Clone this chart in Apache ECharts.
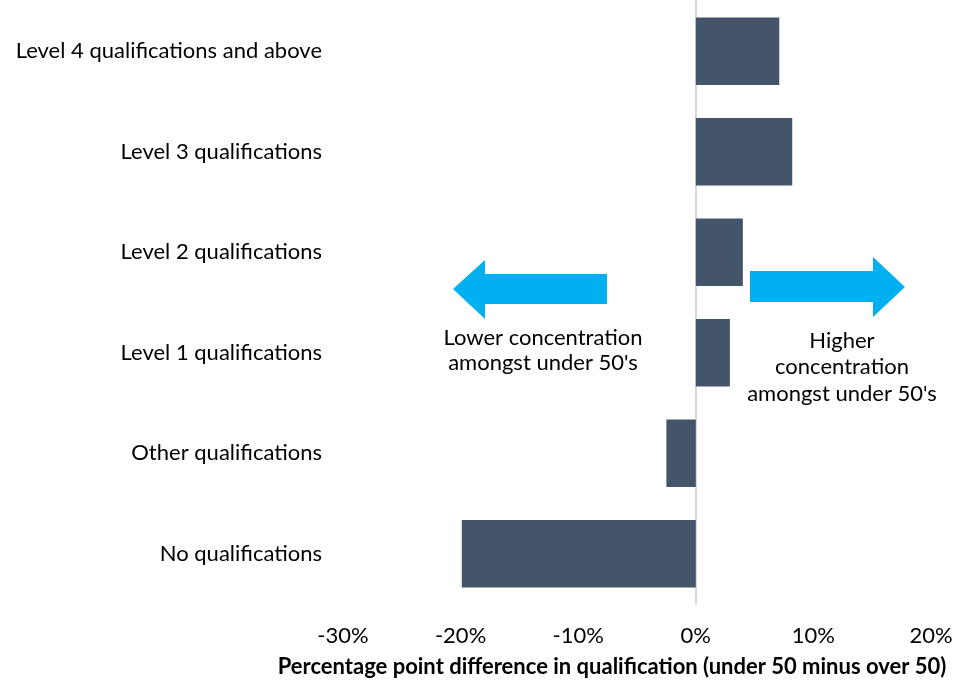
<!DOCTYPE html>
<html lang="en">
<head>
    <meta charset="UTF-8">
    <title>Qualification difference</title>
    <script src="https://cdn.jsdelivr.net/npm/echarts@6/dist/echarts.min.js"></script>
</head>
<body style="margin:0">
    <div id="main" style="width: 956px;height: 681px"></div>
    <script>
        // categories top to bottom
        var categories = ['Level 4 qualifications and above', 'Level 3 qualifications', 'Level 2 qualifications',
            'Level 1 qualifications', 'Other qualifications', 'No qualifications'];
        // percentage point difference (under 50 minus over 50)
        var values = [7.1, 8.2, 4.0, 2.9, -2.5, -19.9];
        var xTicks = [-30, -20, -10, 0, 10, 20];

        var font = 'Lato';
        var arrowColor = '#00b0f0';

        var mCharts = echarts.init(document.getElementById('main'));
        var option = {
            animation: false,
            textStyle: {fontFamily: font},
            grid: {left: 343, right: 25, top: 1, height: 603, containLabel: false, outerBoundsMode: 'none'},
            xAxis: {
                type: 'value',
                min: xTicks[0],
                max: xTicks[xTicks.length - 1],
                interval: 10,
                axisLine: {show: false},
                axisTick: {show: false},
                splitLine: {show: false},
                axisLabel: {
                    formatter: '{value}%',
                    fontSize: 22,
                    color: '#000',
                    margin: 21,
                    fontFamily: font
                },
                name: 'Percentage point difference in qualification (under 50 minus over 50)',
                nameLocation: 'middle',
                nameGap: 52,
                nameTextStyle: {fontSize: 22, fontWeight: 'bold', color: '#000', fontFamily: font, padding: [0, 50, 0, 0]}
            },
            yAxis: {
                type: 'category',
                data: categories,
                inverse: true,
                axisLine: {onZero: true, lineStyle: {color: '#d9d9d9', width: 2}},
                axisTick: {show: false},
                axisLabel: {
                    fontSize: 22,
                    color: '#000',
                    margin: 21,
                    fontFamily: font
                }
            },
            series: [{
                type: 'bar',
                data: values,
                barCategoryGap: '33%',
                itemStyle: {color: '#44546a'},
                z: 3
            }],
            graphic: [
                // left arrow
                {
                    type: 'polygon',
                    shape: {points: [[453, 289], [485, 260], [485, 274], [607, 274], [607, 304], [485, 304], [485, 319]]},
                    style: {fill: arrowColor}
                },
                // right arrow
                {
                    type: 'polygon',
                    shape: {points: [[905, 287], [873, 257], [873, 271], [750, 271], [750, 302], [873, 302], [873, 317]]},
                    style: {fill: arrowColor}
                },
                {
                    type: 'text',
                    x: 543, y: 350,
                    style: {
                        text: "Lower concentration\namongst under 50's",
                        font: '22px ' + font,
                        fill: '#000',
                        align: 'center',
                        verticalAlign: 'middle',
                        lineHeight: 25
                    }
                },
                {
                    type: 'text',
                    x: 842, y: 367,
                    style: {
                        text: "Higher\nconcentration\namongst under 50's",
                        font: '22px ' + font,
                        fill: '#000',
                        align: 'center',
                        verticalAlign: 'middle',
                        lineHeight: 26.5
                    }
                }
            ]
        };
        mCharts.setOption(option);
    </script>
</body>
</html>
